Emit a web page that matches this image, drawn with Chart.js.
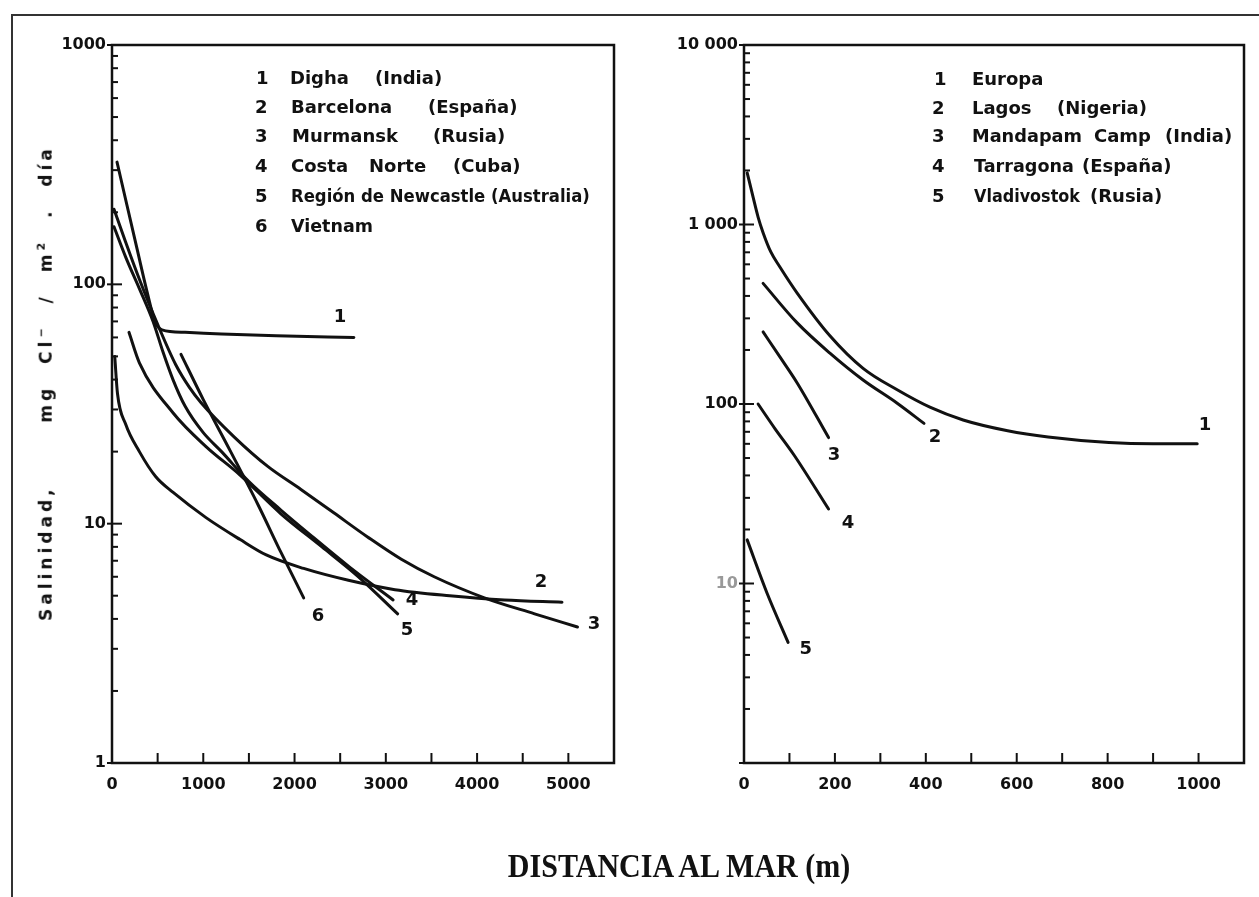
<!DOCTYPE html>
<html><head><meta charset="utf-8">
<script src="https://cdn.jsdelivr.net/npm/chart.js@4.4.1/dist/chart.umd.min.js"></script>
<style>
html,body{margin:0;padding:0;background:#fff;}
body{width:1259px;height:897px;position:relative;overflow:hidden;}
#frame{position:absolute;left:11px;top:14px;width:1400px;height:1000px;border-left:2px solid #333;border-top:2px solid #333;}
#c1{position:absolute;left:0;top:0;}
#c2{position:absolute;left:600px;top:0;}
.row{position:absolute;left:0;height:0;}
.row span{position:absolute;top:0;transform:translateY(-50%);transform-origin:left center;white-space:nowrap;font:bold 18px 'DejaVu Sans',sans-serif;color:#111;}
#ytitle{position:absolute;left:45px;top:383px;transform:translate(-50%,-50%) rotate(-90deg);white-space:pre;font:bold 17px 'DejaVu Sans',sans-serif;letter-spacing:4px;word-spacing:11px;color:#111;}
#ytitle sup{font-size:11px;}
#xtitle{position:absolute;left:679px;top:866px;transform:translate(-50%,-50%) scaleX(0.91);white-space:nowrap;font:bold 33px 'Liberation Serif',serif;color:#111;}
</style></head>
<body>
<div id="frame"></div>
<canvas id="c1" width="640" height="897"></canvas>
<canvas id="c2" width="659" height="897"></canvas>

<div class="row" style="top:77px"><span style="left:256px">1</span><span style="left:290px" data-w="60">Digha</span><span style="left:375px" data-w="72">(India)</span></div>
<div class="row" style="top:106px"><span style="left:255px">2</span><span style="left:291px" data-w="108">Barcelona</span><span style="left:428px" data-w="94">(España)</span></div>
<div class="row" style="top:135px"><span style="left:255px">3</span><span style="left:292px" data-w="108">Murmansk</span><span style="left:433px" data-w="73">(Rusia)</span></div>
<div class="row" style="top:165px"><span style="left:255px">4</span><span style="left:291px" data-w="67">Costa</span><span style="left:369px" data-w="62">Norte</span><span style="left:453px" data-w="78">(Cuba)</span></div>
<div class="row" style="top:195px"><span style="left:255px">5</span><span style="left:291px" data-w="299">Región de Newcastle (Australia)</span></div>
<div class="row" style="top:225px"><span style="left:255px">6</span><span style="left:291px" data-w="82">Vietnam</span></div>

<div class="row" style="top:78px"><span style="left:934px">1</span><span style="left:972px" data-w="79">Europa</span></div>
<div class="row" style="top:107px"><span style="left:932px">2</span><span style="left:972px" data-w="61">Lagos</span><span style="left:1057px" data-w="96">(Nigeria)</span></div>
<div class="row" style="top:135px"><span style="left:932px">3</span><span style="left:972px" data-w="110">Mandapam</span><span style="left:1094px" data-w="61">Camp</span><span style="left:1165px" data-w="71">(India)</span></div>
<div class="row" style="top:165px"><span style="left:932px">4</span><span style="left:974px" data-w="100">Tarragona</span><span style="left:1082px" data-w="104">(España)</span></div>
<div class="row" style="top:195px"><span style="left:932px">5</span><span style="left:974px" data-w="106">Vladivostok</span><span style="left:1090px" data-w="90">(Rusia)</span></div>

<div id="ytitle">Salinidad,   mg Cl<sup>−</sup> / m<sup>2</sup> . día</div>
<div id="xtitle">DISTANCIA AL MAR (m)</div>
<script>
// squeeze legend words only where they would run past the room they have in the reference
document.querySelectorAll('.row span[data-w]').forEach(s=>{
  const w = s.getBoundingClientRect().width;
  const k = Math.min(1, parseFloat(s.dataset.w)/w);
  if (k < 1) s.style.transform = 'translateY(-50%) scaleX(' + k.toFixed(3) + ')';
});

// ---------- LEFT PANEL DATA ----------
const leftNames = ['Digha (India)','Barcelona (España)','Murmansk (Rusia)','Costa Norte (Cuba)','Región de Newcastle (Australia)','Vietnam'];
const dighaDist = [55,164,274,383,471,548,800,1200,1800,2650];
const dighaSal  = [324,214,141,93.5,70,64.5,63,62,61,60];
const barcelonaDist = [30,60,150,300,480,670,1030,1400,1690,2100,2590,3100,3700,4300,4930];
const barcelonaSal  = [50,35,26,20,15.7,13.5,10.6,8.6,7.4,6.5,5.8,5.3,5.0,4.8,4.7];
const murmanskDist = [22,150,300,500,700,850,976,1340,1710,2070,2430,2800,3170,3530,4080,4630,5100];
const murmanskSal  = [206,150,105,68,46,37,32,23,17.3,13.9,11.1,8.8,7.1,6.0,4.9,4.2,3.7];
const cubaDist = [22,150,300,450,560,668,800,1000,1200,1500,1850,2200,2600,3080];
const cubaSal  = [174,130,96,70,52,40,31,24,20,15,11.4,8.8,6.6,4.8];
const newcastleDist = [186,300,670,1030,1400,1850,2300,2700,3130];
const newcastleSal  = [63,47,29,21,16,11,8,6,4.2];
const vietnamDist = [756,1000,1300,1600,1850,2100];
const vietnamSal  = [51,33,20,12,7.6,4.9];
const leftXLabels = [0,1000,2000,3000,4000,5000];
const leftYMajor = [1,10,100,1000];
const leftYLabels = ['1','10','100','1000'];

// ---------- RIGHT PANEL DATA ----------
const rightNames = ['Europa','Lagos (Nigeria)','Mandapam Camp (India)','Tarragona (España)','Vladivostok (Rusia)'];
const europaDist = [7,20,31,42,59,79,117,189,262,337,409,482,580,669,803,900,997];
const europaSal  = [1940,1420,1100,900,703,580,415,240,158,120,96,81.5,71,65.5,61,60,60];
const lagosDist = [42,117,189,262,337,396];
const lagosSal  = [470,283,192,136,101,78];
const mandapamDist = [42,79,117,186];
const mandapamSal  = [252,183,131,65];
const tarragonaDist = [31,68,110,186];
const tarragonaSal  = [100,73,52,26];
const vladivostokDist = [7,51,97];
const vladivostokSal  = [17.5,8.8,4.7];
const rightXLabels = [0,200,400,600,800,1000];
const rightYMajor = [1,10,100,1000,10000];
const rightYLabels = ['','10','100','1 000','10 000'];

const pts = (xs, ys) => xs.map((x,i)=>({x:x,y:ys[i]}));
function logTicks(min,max){ const a=[]; for(let d=min; d<max; d*=10){ for(let k=1;k<10;k++) a.push(d*k);} a.push(max); return a; }

const frameTicks = {
  id:'frameTicks',
  afterDatasetsDraw(chart, args, opts){
    const {ctx, chartArea:a, scales:{x,y}} = chart;
    ctx.save();
    ctx.strokeStyle='#111';
    ctx.lineWidth=2.5;
    ctx.strokeRect(a.left,a.top,a.right-a.left,a.bottom-a.top);
    ctx.lineWidth=2;
    x.ticks.forEach(t=>{
      const px=x.getPixelForValue(t.value);
      if(px<=a.left+2||px>=a.right-2) return;
      ctx.beginPath(); ctx.moveTo(px,a.bottom); ctx.lineTo(px,a.bottom-10); ctx.stroke();
    });
    y.ticks.forEach(t=>{
      const py=y.getPixelForValue(t.value);
      const lg=Math.log10(t.value);
      const major=Math.abs(lg-Math.round(lg))<1e-9;
      ctx.beginPath(); ctx.moveTo(a.left-(major?5:0),py); ctx.lineTo(a.left+(major?10:6),py); ctx.stroke();
    });
    ctx.fillStyle='#111';
    ctx.font="bold 18px 'DejaVu Sans', sans-serif";
    ctx.textAlign='center'; ctx.textBaseline='middle';
    (opts.labels||[]).forEach(l=>{
      ctx.fillText(l.t, x.getPixelForValue(l.x), y.getPixelForValue(l.y));
    });
    ctx.restore();
  }
};

const tickFont = {family:"'DejaVu Sans', sans-serif", size:16, weight:'bold'};

function makeChart(id, datasets, xMax, xStep, xLabels, yMin, yMax, yMajor, yLabels, yWidth, padding, labels){
  return new Chart(document.getElementById(id), {
    type:'line',
    data:{datasets: datasets.map(d=>({label:d.name, data:d.data, borderColor:'#111', borderWidth:3, pointRadius:0, fill:false, cubicInterpolationMode:'monotone', borderCapStyle:'round', borderJoinStyle:'round'}))},
    options:{
      responsive:false, animation:false,
      layout:{padding:padding},
      plugins:{legend:{display:false}, tooltip:{enabled:false}, frameTicks:{labels:labels}},
      scales:{
        x:{type:'linear', min:0, max:xMax, grid:{display:false, drawTicks:false}, border:{display:false},
           ticks:{stepSize:xStep, autoSkip:false, maxRotation:0, padding:12, color:'#111', font:tickFont,
                  callback:(v)=> xLabels.includes(v) ? String(v) : ''},
           afterFit:(s)=>{ s.height=40; }},
        y:{type:'logarithmic', min:yMin, max:yMax, grid:{display:false, drawTicks:false}, border:{display:false},
           afterBuildTicks:(s)=>{ s.ticks = logTicks(yMin,yMax).map(v=>({value:v})); },
           ticks:{autoSkip:false, padding:6, color:(c)=> (c.tick && c.tick.value===10 && yMax===10000) ? '#999' : '#111', font:tickFont,
                  callback:(v)=>{ const i=yMajor.findIndex(m=>Math.abs(m-v)<1e-6*m); return i>=0 ? yLabels[i] : ''; }},
           afterFit:(s)=>{ s.width=yWidth; }}
      }
    },
    plugins:[frameTicks]
  });
}

makeChart('c1', [
  {name:leftNames[0], data:pts(dighaDist,dighaSal)},
  {name:leftNames[1], data:pts(barcelonaDist,barcelonaSal)},
  {name:leftNames[2], data:pts(murmanskDist,murmanskSal)},
  {name:leftNames[3], data:pts(cubaDist,cubaSal)},
  {name:leftNames[4], data:pts(newcastleDist,newcastleSal)},
  {name:leftNames[5], data:pts(vietnamDist,vietnamSal)}
], 5500, 500, leftXLabels, 1, 1000, leftYMajor, leftYLabels, 62,
 {left:50, right:26, top:45, bottom:94},
 [{t:'1',x:2497,y:73},{t:'2',x:4700,y:5.7},{t:'3',x:5281,y:3.8},{t:'4',x:3287,y:4.8},{t:'5',x:3232,y:3.6},{t:'6',x:2257,y:4.1}]);

makeChart('c2', [
  {name:rightNames[0], data:pts(europaDist,europaSal)},
  {name:rightNames[1], data:pts(lagosDist,lagosSal)},
  {name:rightNames[2], data:pts(mandapamDist,mandapamSal)},
  {name:rightNames[3], data:pts(tarragonaDist,tarragonaSal)},
  {name:rightNames[4], data:pts(vladivostokDist,vladivostokSal)}
], 1100, 100, rightXLabels, 1, 10000, rightYMajor, rightYLabels, 80,
 {left:64, right:15, top:45, bottom:94},
 [{t:'1',x:1014,y:76},{t:'2',x:420,y:65},{t:'3',x:198,y:52},{t:'4',x:229,y:21.7},{t:'5',x:136,y:4.3}]);
</script>
</body></html>
